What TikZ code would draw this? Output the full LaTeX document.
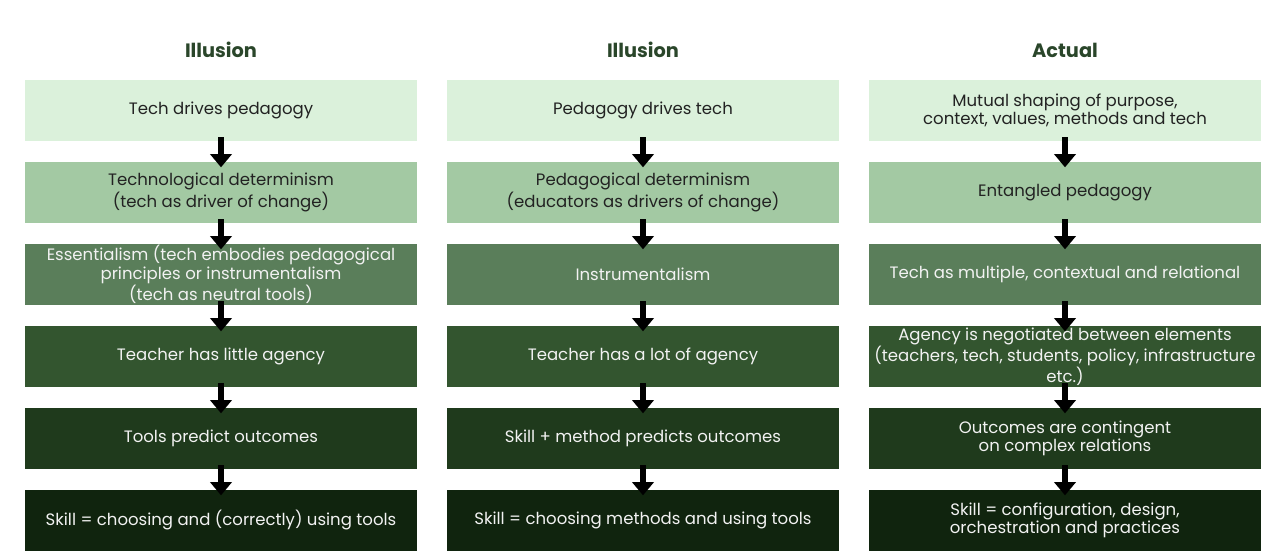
\documentclass[tikz,border=0pt]{standalone}
\usepackage{fontspec}
\setmainfont{Poppins}
\usepackage{tikz}
\usetikzlibrary{positioning}
\usetikzlibrary{arrows.meta}
\definecolor{g1}{HTML}{DBF1DB}
\definecolor{g2}{HTML}{A3C9A3}
\definecolor{g3}{HTML}{5A7E5A}
\definecolor{g4}{HTML}{33552F}
\definecolor{g5}{HTML}{1F3A1C}
\definecolor{g6}{HTML}{10240E}
\definecolor{ink}{HTML}{222222}
\definecolor{paper}{HTML}{F2F2F2}
\definecolor{head}{HTML}{2A462A}
\tikzset{
  arr/.style={-{Triangle[width=16pt,length=10pt]}, line width=4pt,
              shorten <=-3pt, shorten >=-4pt},
  title/.style={font=\fontsize{14.5}{16}\selectfont\bfseries, text=head}
}

\begin{document}
\begin{tikzpicture}[x=0.75pt,y=-0.75pt,node distance=1.5em]
\useasboundingbox[fill=white] (0,0) rectangle (1274,557);
 \matrix[anchor=north west, inner sep=0pt, outer sep=0pt,
        nodes={minimum width=294pt, minimum height=45.75pt, inner sep=0pt,
               align=center, font=\fontsize{12.4}{11.8}\selectfont},
        row sep=15.75pt, column sep=22.5pt,
        row 1/.style={nodes={fill=g1, text=ink}},
        row 2/.style={nodes={fill=g2, text=ink}},
        row 3/.style={nodes={fill=g3, text=paper}},
        row 4/.style={nodes={fill=g4, text=paper}},
        row 5/.style={nodes={fill=g5, text=paper}},
        row 6/.style={nodes={fill=g6, text=paper}}] at (25,80) {
\node(a1){Tech drives pedagogy}; &
  \node(b1){Pedagogy drives tech}; &
  \node(c1){Mutual shaping of purpose,\\context, values, methods and tech};\\
\node(a2){Technological determinism\\(tech as driver of change)}; &
  \node(b2){Pedagogical determinism\\(educators as drivers of change)}; &
  \node(c2){Entangled pedagogy};\\
\node(a3){Essentialism (tech embodies pedagogical\\principles or instrumentalism\\(tech as neutral tools)}; &
  \node(b3){Instrumentalism}; &
  \node(c3){Tech as multiple, contextual and relational};\\
\node(a4){Teacher has little agency}; &
  \node(b4){Teacher has a lot of agency}; &
  \node(c4){Agency is negotiated between elements\\(teachers, tech, students, policy, infrastructure\\etc.)};\\
\node(a5){Tools predict outcomes}; &
  \node(b5){Skill + method predicts outcomes}; &
  \node(c5){Outcomes are contingent\\on complex relations};\\
\node(a6){Skill = choosing and (correctly) using tools}; &
  \node(b6){Skill = choosing methods and using tools}; &
  \node(c6){Skill = configuration, design,\\orchestration and practices};\\
 };
\node[title, above=13pt of a1] (ta) {Illusion};
\node[title, above=13pt of b1] (tb) {Illusion};
\node[title, above=13pt of c1] (tc) {Actual};
\foreach \c in {a,b,c}
  \foreach \r [count=\n from 2] in {1,...,5}
    \draw[arr] (\c\r.south) -- (\c\n.north);
\end{tikzpicture}
\end{document}
